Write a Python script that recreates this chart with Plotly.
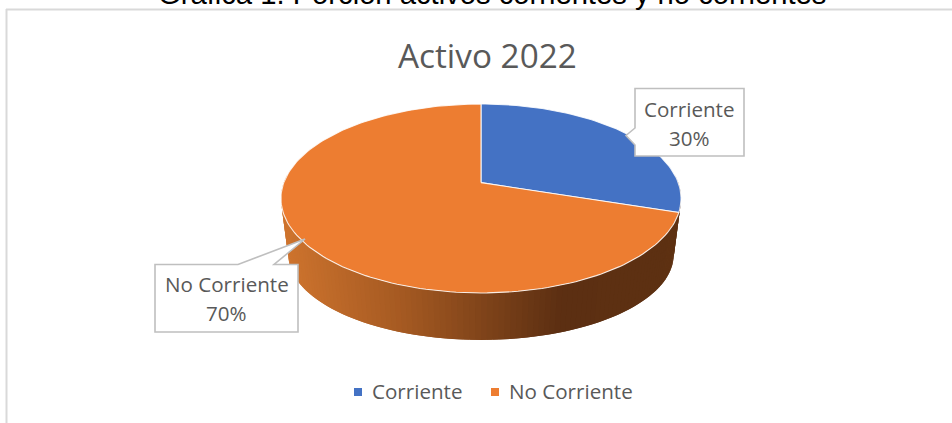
import math
import plotly.graph_objects as go

page_title = "Gráfica 1. Porción activos corrientes y no corrientes"
chart_title = "Activo 2022"
categorias = ["Corriente", "No Corriente"]
valores = [30, 70]
colores = ["#4472C4", "#ED7D31"]

W, H = 952, 423
CX, APEX_Y = 481.0, 182.6
P, KX, KY = 0.168, 197.2, 91.8
SX, SY, DROP = 0.963, 0.90, 58.0
GRAD = [(285, (0xCE, 0x74, 0x2E)), (400, (0xA6, 0x5A, 0x22)), (560, (0x5C, 0x2F, 0x12)), (700, (0x5E, 0x31, 0x12))]
TEXT = "#595959"
FONT = "Open Sans"


def top_pt(theta):
    u, v = math.sin(theta), math.cos(theta)
    d = 1 + P * v
    return CX + KX * u / d, APEX_Y - KY * v / d


def bottom_pt(theta):
    x, y = top_pt(theta)
    return CX + SX * (x - CX), APEX_Y + DROP + SY * (y - APEX_Y)


def grad(x):
    if x <= GRAD[0][0]:
        c = GRAD[0][1]
    elif x >= GRAD[-1][0]:
        c = GRAD[-1][1]
    else:
        for (a, ca), (b, cb) in zip(GRAD, GRAD[1:]):
            if a <= x <= b:
                t = (x - a) / (b - a)
                c = tuple(ca[i] + t * (cb[i] - ca[i]) for i in range(3))
                break
    return "rgb(%d,%d,%d)" % tuple(round(k) for k in c)


fig = go.Figure()

# Side wall of the disc: overlapping strips painted from the right round to the left
N = 130
a0, a1 = math.radians(85), math.radians(275)
step = (a1 - a0) / N
for i in range(N):
    t0 = a0 + step * i
    t1 = t0 + step * 2 if i < N - 1 else t0 + step
    p = [top_pt(t0), top_pt(t1), bottom_pt(t1), bottom_pt(t0), top_pt(t0)]
    col = grad((top_pt(t0)[0] + bottom_pt(t0 + step)[0]) / 2)
    fig.add_trace(go.Scatter(
        x=[q[0] for q in p], y=[q[1] for q in p], mode="lines", fill="toself",
        fillcolor=col, line=dict(color=col, width=0), showlegend=False, hoverinfo="skip"))

# Top face: slices from values
total = sum(valores)
acc = 0
for cat, val, col in zip(categorias, valores, colores):
    start = 2 * math.pi * acc / total
    acc += val
    end = 2 * math.pi * acc / total
    n = max(12, int(240 * val / total))
    arc = [top_pt(start + (end - start) * j / n) for j in range(n + 1)]
    xs = [CX] + [q[0] for q in arc] + [CX]
    ys = [APEX_Y] + [q[1] for q in arc] + [APEX_Y]
    fig.add_trace(go.Scatter(
        x=xs, y=ys, mode="lines", fill="toself", fillcolor=col, name=cat,
        line=dict(color="rgba(255,255,255,0.85)", width=1.1), showlegend=False,
        hoverinfo="name"))

shapes = [
    dict(type="line", x0=6, x1=952, y0=9.5, y1=9.5, line=dict(color="#D9D9D9", width=2), layer="below"),
    dict(type="line", x0=6.5, x1=6.5, y0=9, y1=423, line=dict(color="#D9D9D9", width=2), layer="below"),
    dict(type="path", layer="above", fillcolor="white", line=dict(color="#BFBFBF", width=1.6),
         path="M635,88.5 L744,88.5 L744,156 L635,156 L635,145 L626,135.5 L635,128 Z"),
    dict(type="path", layer="above", fillcolor="white", line=dict(color="#BFBFBF", width=1.6),
         path="M155,264.5 L238,264.5 L305,239 L274,264.5 L298,264.5 L298,332 L155,332 Z"),
    dict(type="rect", x0=354, x1=362, y0=388, y1=396, fillcolor=colores[0], line=dict(width=0), layer="above"),
    dict(type="rect", x0=491, x1=499, y0=388, y1=396, fillcolor=colores[1], line=dict(width=0), layer="above"),
]


def note(text, x, y, size, color=TEXT, family=FONT, xanchor="center", yanchor="middle"):
    return dict(text=text, x=x, y=y, xref="x", yref="y", showarrow=False,
                xanchor=xanchor, yanchor=yanchor, font=dict(size=size, color=color, family=family))


annotations = [
    note(page_title, 492, 12.5, 29.2, color="#000000", family="Liberation Sans", yanchor="bottom"),
    note(chart_title, 487.5, 55, 33.3),
    note(categorias[0], 689.5, 109, 20.6),
    note(f"{valores[0]}%", 689.5, 138, 20.6),
    note(categorias[1], 226.5, 284, 20.6),
    note(f"{valores[1]}%", 226.5, 313, 20.6),
    note(categorias[0], 369.5, 391, 20.6, xanchor="left"),
    note(categorias[1], 506.5, 391, 20.6, xanchor="left"),
]

fig.update_layout(
    width=W, height=H, margin=dict(l=0, r=0, t=0, b=0),
    paper_bgcolor="white", plot_bgcolor="white", showlegend=False,
    xaxis=dict(range=[0, W], visible=False, fixedrange=True),
    yaxis=dict(range=[H, 0], visible=False, fixedrange=True),
    shapes=shapes, annotations=annotations,
)
fig.write_html("out.html", config=dict(displayModeBar=False),
               post_script="document.body.style.margin='0';document.documentElement.style.overflow='hidden';")
